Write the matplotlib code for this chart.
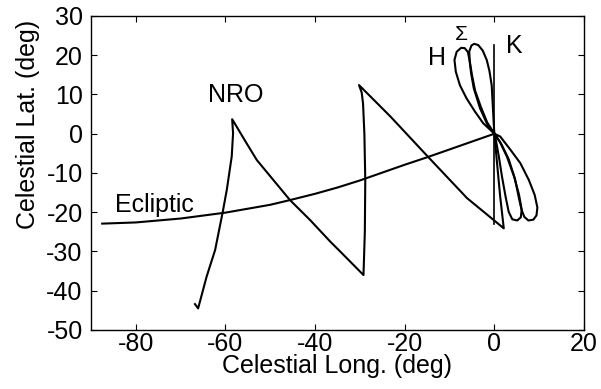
import matplotlib
matplotlib.use("Agg")
import matplotlib.pyplot as plt

plt.rcParams['font.family'] = ['Liberation Sans', 'DejaVu Sans']
plt.rcParams['axes.unicode_minus'] = False

# ecliptic (deg)
ecl_lon = [-87.5, -80, -70, -60, -50, -45.6, -40, -35, -30, -25, -20, -15, -10, -5, 0]
ecl_lat = [-22.9, -22.6, -21.6, -20.1, -18.1, -16.9, -15.3, -13.7, -11.9, -9.9, -7.9, -6.0, -4.0, -2.0, 0]

# NRO track
nro_lon = [-66.8, -66.1, -64.2, -62.3, -60.6, -59.7, -58.6, -58.3, -58.5,
           -55.3, -53.0, -49.3, -45.6, -41.1, -36.6, -34.4, -29.2,
           -28.9, -28.8, -29.0, -29.3, -29.6, -30.2,
           -23.2, -14.7, -6.1, 2.1,
           1.3, 0.6, 0]
nro_lat = [-43.4, -44.5, -36.4, -29.6, -19.9, -14.3, -5.8, 0.1, 3.7,
           -2.4, -6.7, -11.8, -16.9, -22.0, -27.5, -30.0, -36.0,
           -25.0, -11.8, 0.0, 7.7, 10.5, 12.4,
           4.4, -6.0, -16.4, -24.1,
           -16.0, -7.5, 0]

# H loop
h_lon = [0, -2.5, -4.3, -6.2, -7.7, -8.6, -8.9, -8.4, -7.4, -6.6, -5.9, -5.5, -5.2, -4.6, -3.2, -1.7, 0,
         1.3, 3.6, 5.8, 7.7, 9.0, 9.6, 9.4, 8.7, 7.6, 6.7, 6.1, 5.5, 4.6, 3.2, 1.5, 0]
h_lat = [0, 2.7, 5.6, 9.0, 12.4, 15.8, 18.8, 20.9, 21.9, 21.8, 20.8, 18.5, 15.5, 11.6, 6.5, 2.7, 0,
         -0.7, -4.1, -7.5, -11.8, -15.6, -18.8, -20.8, -21.9, -22.1, -21.2, -19.5, -16.5, -11.5, -6.5, -2.5, 0]

# Sigma loop
s_lon = [0, -1.6, -3.0, -4.3, -5.0, -5.5, -5.6, -5.1, -4.5, -3.6, -2.6, -1.7, -1.1, -0.6, -0.4, -0.2, 0,
         1.2, 2.8, 4.4, 5.5, 6.1, 5.9, 5.1, 4.0, 3.2, 2.5, 1.7, 1.0, 0.4, 0]
s_lat = [0, 2.9, 6.8, 11.0, 15.0, 18.5, 21.0, 22.5, 22.9, 22.6, 21.2, 18.8, 16.0, 12.4, 8.2, 3.9, 0,
         -2.0, -5.8, -10.9, -15.5, -19.4, -21.3, -22.1, -21.8, -19.9, -16.0, -10.9, -5.8, -2.0, 0]

# K track
k_lon = [0, 0]
k_lat = [22.5, -23.0]

fig = plt.figure(figsize=(6.01, 3.89), dpi=100)
ax = fig.add_axes([0.1514, 0.1517, 0.8203, 0.8072])

lw = 1.5
ax.plot(ecl_lon, ecl_lat, color='black', lw=lw)
ax.plot(nro_lon, nro_lat, color='black', lw=lw)
ax.plot(h_lon, h_lat, color='black', lw=lw)
ax.plot(s_lon, s_lat, color='black', lw=lw)
ax.plot(k_lon, k_lat, color='black', lw=1.2)

fs = 18
ax.text(-57.7, 8.2, 'NRO', fontsize=fs, ha='center', va='baseline')
ax.text(-84.7, -19.9, 'Ecliptic', fontsize=fs, ha='left', va='baseline')
ax.text(-14.7, 17.5, 'H', fontsize=fs, ha='left', va='baseline')
ax.text(-8.7, 23.9, 'Σ', fontsize=15, ha='left', va='baseline')
ax.text(2.5, 20.5, 'K', fontsize=fs, ha='left', va='baseline')

ax.set_xlim(-90, 20)
ax.set_ylim(-50, 30)
ax.set_xticks(range(-80, 21, 20))
ax.set_yticks(range(-50, 31, 10))
ax.tick_params(direction='in', length=4, width=0.8, labelsize=fs,
               top=True, right=True)
ax.tick_params(axis='x', pad=1.5)
ax.tick_params(axis='y', pad=6)
for s in ax.spines.values():
    s.set_linewidth(1.0)

ax.set_xlabel('Celestial Long. (deg)', fontsize=fs)
ax.set_ylabel('Celestial Lat. (deg)', fontsize=fs)
ax.xaxis.set_label_coords(0.5, -0.078)
ax.yaxis.set_label_coords(-0.104, 0.656)

fig.savefig('out.png', dpi=100)
